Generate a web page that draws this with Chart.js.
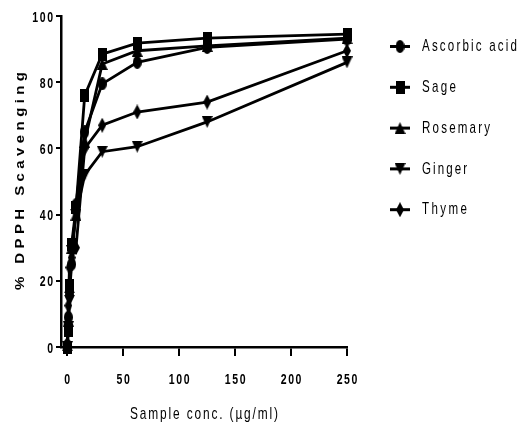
<!DOCTYPE html>
<html><head><meta charset="utf-8">
<script src="https://cdn.jsdelivr.net/npm/chart.js@4/dist/chart.umd.min.js"></script>
<style>html,body{margin:0;padding:0;background:#fff;overflow:hidden}canvas{display:block}</style>
</head><body>
<canvas id="c" width="518" height="427"></canvas>
<script>
// ---- data ----
const concentrations = [0, 0.98, 1.95, 3.9, 7.8, 15.6, 31.25, 62.5, 125, 250];
const ascorbicAcid = [0.5, 9, 16, 25, 43, 65, 79.5, 86, 90.5, 93];
const sage         = [0, 5, 18.5, 31, 42, 76, 88.5, 91.8, 93.3, 94.5];
const rosemary     = [0.5, 8, 18, 30, 40, 62, 85.5, 89.5, 91, 93.3];
const ginger       = [0, 6, 14, 29, 40, 52, 59, 60.5, 68, 86];
const thyme        = [1, 12.5, 24, 27, 30, 60, 67, 71, 74, 89.5];
const seriesNames  = ['Ascorbic acid', 'Sage', 'Rosemary', 'Ginger', 'Thyme'];
const xTicks = [0, 50, 100, 150, 200, 250];
const yTicks = [0, 20, 40, 60, 80, 100];
const xTitle = 'Sample conc. (\u00b5g/ml)';
const yTitle = '% DPPH Scavenging';

// ---- styling ----
const FAM = '"Liberation Sans", Arial, sans-serif';

function makeMarker(kind, w, h) {
  const c = document.createElement('canvas');
  c.width = w; c.height = h;
  const g = c.getContext('2d');
  g.fillStyle = '#000';
  g.beginPath();
  if (kind === 'circle') { g.ellipse(w/2, h/2, w/2, h/2, 0, 0, Math.PI*2); }
  else if (kind === 'square') { g.rect(0, 0, w, h); }
  else if (kind === 'tri') { g.moveTo(w/2, 0); g.lineTo(w, h); g.lineTo(0, h); g.closePath(); }
  else if (kind === 'invtri') { g.moveTo(0, 0); g.lineTo(w, 0); g.lineTo(w/2, h); g.closePath(); }
  else if (kind === 'diamond') { g.moveTo(w/2, 0); g.lineTo(w, h/2); g.lineTo(w/2, h); g.lineTo(0, h/2); g.closePath(); }
  g.fill();
  return c;
}
const markers = [
  makeMarker('circle', 9, 13),
  makeMarker('square', 9, 13),
  makeMarker('tri', 11, 12),
  makeMarker('invtri', 11, 12),
  makeMarker('diamond', 8, 15)
];
const seriesValues = [ascorbicAcid, sage, rosemary, ginger, thyme];

const datasets = seriesNames.map((name, i) => ({
  label: name,
  data: concentrations.map((x, j) => ({ x: x, y: seriesValues[i][j] })),
  borderColor: '#000',
  backgroundColor: '#000',
  borderWidth: 2.8,
  pointStyle: markers[i],
  pointRadius: 5,
  pointHoverRadius: 5,
  tension: 0,
  clip: false
}));

// text with horizontal compression and letter spacing
function drawStr(ctx, text, cx, cy, o) {
  const sx = o.sx || 1, sy = o.sy || 1;
  ctx.save();
  ctx.font = o.font;
  ctx.fillStyle = '#000';
  ctx.textBaseline = 'middle';
  ctx.textAlign = 'left';
  const chars = [...text];
  const widths = chars.map(ch => ctx.measureText(ch).width * sx);
  const nat = widths.reduce((a, b) => a + b, 0);
  let sp = o.spacing || 0;
  if (o.width != null && chars.length > 1) sp = (o.width - nat) / (chars.length - 1);
  const total = nat + sp * (chars.length - 1);
  ctx.translate(cx, cy);
  if (o.rotate) ctx.rotate(-Math.PI / 2);
  let x = o.align === 'right' ? -total : (o.align === 'left' ? 0 : -total / 2);
  chars.forEach((ch, i) => {
    ctx.save();
    ctx.translate(x, 0);
    ctx.scale(sx, sy);
    ctx.fillText(ch, 0, 0);
    ctx.restore();
    x += widths[i] + sp;
  });
  ctx.restore();
}

const legendWidths = [95, 34, 68, 45, 45];
const decor = {
  id: 'decor',
  afterDraw(chart) {
    const ctx = chart.ctx;
    const xs = chart.scales.x, ys = chart.scales.y;
    const tickFont = 'bold 15px ' + FAM;
    xTicks.forEach(v => drawStr(ctx, String(v), xs.getPixelForValue(v), 379.5, { font: tickFont, sx: 0.7, spacing: 1.6 }));
    yTicks.forEach(v => drawStr(ctx, String(v), 53, ys.getPixelForValue(v) + 1.5, { font: tickFont, sx: 0.7, spacing: 1.6, align: 'right' }));
    // axis titles
    drawStr(ctx, yTitle, 20, 181, { font: 'bold 15px ' + FAM, sy: 0.85, width: 218, rotate: true });
    drawStr(ctx, xTitle, 204, 414, { font: '17px ' + FAM, sx: 0.7, width: 148 });
    // legend
    seriesNames.forEach((name, i) => {
      const y = 46.5 + i * 40.8;
      ctx.save();
      ctx.strokeStyle = '#000';
      ctx.lineWidth = 3;
      ctx.beginPath();
      ctx.moveTo(390, y); ctx.lineTo(410, y);
      ctx.stroke();
      const m = markers[i];
      ctx.drawImage(m, 400 - m.width / 2, y - m.height / 2);
      ctx.restore();
      drawStr(ctx, name, 422, y, { font: '17px ' + FAM, sx: 0.68, width: legendWidths[i], align: 'left' });
    });
  }
};

new Chart(document.getElementById('c'), {
  type: 'line',
  data: { datasets },
  options: {
    responsive: false,
    animation: false,
    events: [],
    layout: { padding: { left: 0, top: 16, right: 171, bottom: 0 } },
    plugins: { legend: { display: false }, tooltip: { enabled: false } },
    scales: {
      x: {
        type: 'linear', min: -5.6, max: 250,
        afterBuildTicks: s => { s.ticks = xTicks.map(v => ({ value: v })); },
        afterFit: s => { s.height = 80; },
        grid: { display: true, drawOnChartArea: false, drawTicks: true, tickLength: 9, color: '#000', lineWidth: 2 },
        border: { display: true, color: '#000', width: 2.5 },
        ticks: { display: false }
      },
      y: {
        type: 'linear', min: 0, max: 100,
        afterBuildTicks: s => { s.ticks = yTicks.map(v => ({ value: v })); },
        afterFit: s => { s.width = 61; },
        grid: { display: true, drawOnChartArea: false, drawTicks: true, tickLength: 5, color: '#000', lineWidth: 2 },
        border: { display: true, color: '#000', width: 2.5 },
        ticks: { display: false }
      }
    }
  },
  plugins: [decor]
});
</script>
</body></html>
